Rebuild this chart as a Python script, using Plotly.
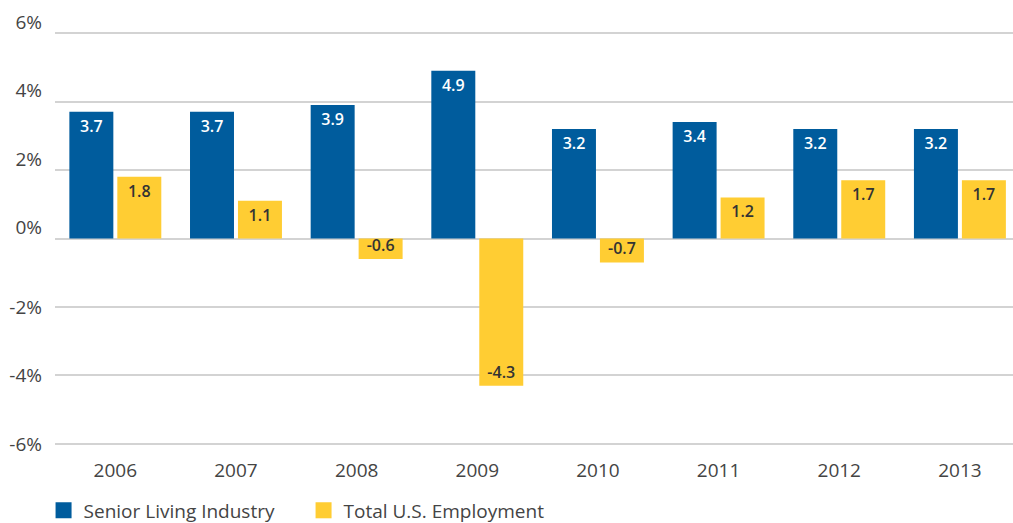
import plotly.graph_objects as go

years = ["2006", "2007", "2008", "2009", "2010", "2011", "2012", "2013"]
senior_living = [3.7, 3.7, 3.9, 4.9, 3.2, 3.4, 3.2, 3.2]
total_us = [1.8, 1.1, -0.6, -4.3, -0.7, 1.2, 1.7, 1.7]
neg_ticks = [-6, -4, -2]
neg_tick_labels = ["-6%", "-4%", "-2%"]
pos_ticks = [0, 2, 4, 6]
pos_tick_labels = ["0%", "2%", "4%", "6%"]
all_ticks = neg_ticks + pos_ticks

BLUE = "#005C9D"
YELLOW = "#FFCD33"
FONT = "Open Sans"
TEXT = "#444444"
Y_RANGE = [-6.03, 6.03]

fig = go.Figure()
fig.add_trace(go.Bar(
    x=years, y=senior_living, name="Senior Living Industry",
    marker=dict(color=BLUE, line=dict(width=0)),
    text=[f"{v:.1f}" for v in senior_living],
    textposition="inside", insidetextanchor="end", constraintext="none",
    textfont=dict(family=FONT, size=16, color="white", weight=600),
    showlegend=False, hoverinfo="skip",
))
fig.add_trace(go.Bar(
    x=years, y=total_us, name="Total U.S. Employment",
    marker=dict(color=YELLOW, line=dict(width=0)),
    text=[f"{v:.1f}" for v in total_us],
    textposition="inside", insidetextanchor="end", constraintext="none",
    textfont=dict(family=FONT, size=16, color="#333333", weight=600),
    showlegend=False, hoverinfo="skip",
))

# legend entries with larger square swatches
for name, color in [("Senior Living Industry", BLUE), ("Total U.S. Employment", YELLOW)]:
    fig.add_trace(go.Scatter(
        x=[None], y=[None], mode="markers", name=name,
        marker=dict(symbol="square", size=16, color=color),
    ))

# invisible trace so the secondary axis (labels for 0% and above) is drawn
fig.add_trace(go.Scatter(x=[None], y=[None], yaxis="y2", showlegend=False, hoverinfo="skip"))

fig.update_layout(
    width=1013, height=523,
    margin=dict(l=55, r=0, t=32, b=78, autoexpand=False),
    paper_bgcolor="white", plot_bgcolor="white",
    barmode="group", bargap=0.205, bargroupgap=0.083,
    font=dict(family=FONT, size=19, color=TEXT),
    showlegend=True,
    legend=dict(
        orientation="h", xref="container", x=0.043, xanchor="left",
        yref="container", y=0.024, yanchor="middle",
        font=dict(family=FONT, size=19, color=TEXT),
        itemsizing="trace", tracegroupgap=0, itemwidth=30,
        entrywidth=215, entrywidthmode="pixels",
    ),
    xaxis=dict(
        type="category", range=[-0.5, 7.44],
        showgrid=False, showline=False, zeroline=False,
        ticks="outside", ticklen=8, tickcolor="rgba(0,0,0,0)",
        tickfont=dict(family=FONT, size=19, color=TEXT),
    ),
    yaxis=dict(
        range=Y_RANGE, tickvals=all_ticks,
        ticktext=neg_tick_labels + [""] * len(pos_ticks),
        showgrid=True, gridcolor="#D3D3D3", gridwidth=2,
        zeroline=True, zerolinecolor="#D3D3D3", zerolinewidth=2,
        showline=False, ticks="",
        ticklabelstandoff=12,
        tickfont=dict(family=FONT, size=19, color=TEXT),
    ),
    yaxis2=dict(
        overlaying="y", side="left", range=Y_RANGE,
        tickvals=pos_ticks, ticktext=pos_tick_labels,
        showgrid=False, zeroline=False, showline=False, ticks="",
        ticklabelstandoff=12, ticklabelshift=-11,
        tickfont=dict(family=FONT, size=19, color=TEXT),
    ),
)

fig.write_html("out.html")
